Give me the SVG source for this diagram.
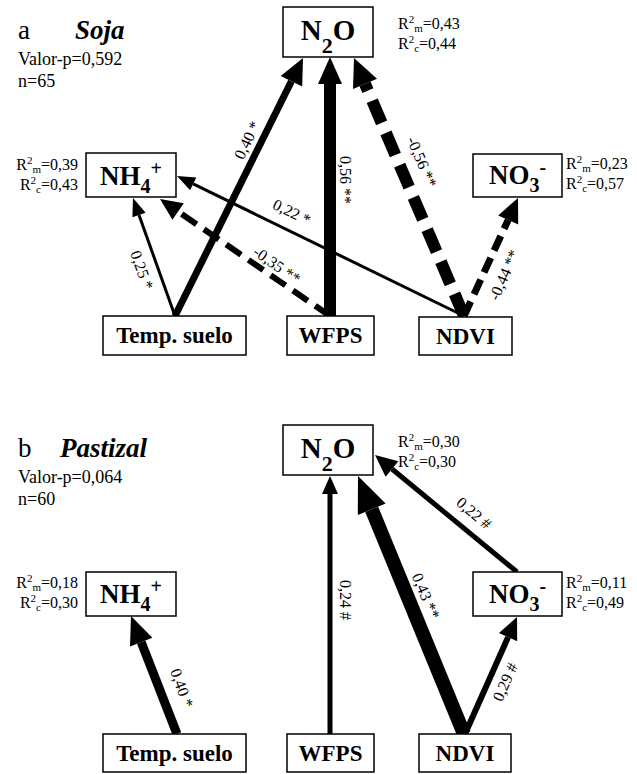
<svg xmlns="http://www.w3.org/2000/svg" width="637" height="774" viewBox="0 0 637 774" font-family="'Liberation Serif', 'DejaVu Serif', serif">
<style>
text{font-family:"Liberation Serif","DejaVu Serif",serif;fill:#000}
.box{fill:#fff;stroke:#000;stroke-width:1.5}
.node{font-weight:bold;font-size:23px;text-anchor:middle}
.big{font-weight:bold;font-size:29px;text-anchor:middle}
.mid{font-weight:bold;font-size:27px;text-anchor:middle}
.r2{font-size:16px}
.r2e{font-size:16px;text-anchor:end}
.s{font-size:11px}
.title{font-size:27px}
.ti{font-size:27px;font-weight:bold;font-style:italic}
.info{font-size:18px}
.lbl{font-size:16px;text-anchor:middle;dominant-baseline:central}
.e{stroke:#000;fill:none;stroke-linecap:butt}
.h{fill:#000;stroke:none}
</style>

<g id="header-a">
<text x="18" y="39" class="title">a</text>
<text x="75" y="39" class="ti">Soja</text>
<text x="18" y="65" class="info">Valor-p=0,592</text>
<text x="18" y="87" class="info">n=65</text>
</g>

<g id="connectors-a">
<line class="e" x1="175" y1="316" x2="139" y2="215" stroke-width="3"/>
<polygon class="h" points="133,198 145.6,212.7 132.4,217.3"/>
<line class="e" x1="175" y1="316" x2="291.4" y2="81.3" stroke-width="7"/>
<polygon class="h" points="303,58 302.2,86.6 280.7,76"/>
<line class="e" x1="330" y1="316" x2="330" y2="84" stroke-width="12"/>
<polygon class="h" points="330,57 342,84 318,84"/>
<line class="e" x1="464" y1="316" x2="365" y2="83.8" stroke-width="12" stroke-dasharray="24 11"/>
<polygon class="h" points="354,58 377,78.7 353,88.9"/>
<line class="e" x1="464" y1="316" x2="193.2" y2="183.9" stroke-width="3"/>
<polygon class="h" points="177,176 196.3,177.6 190.1,190.2"/>
<line class="e" x1="330" y1="316" x2="178.1" y2="211.5" stroke-width="6" stroke-dasharray="18 9"/>
<polygon class="h" points="160,199 183.8,203.3 172.4,219.7"/>
<line class="e" x1="464" y1="316" x2="508.2" y2="219.9" stroke-width="7" stroke-dasharray="16 8"/>
<polygon class="h" points="518,198 518.2,224.4 498.2,215.4"/>
<text class="lbl" transform="translate(142,270) rotate(70)">0,25 *</text>
<text class="lbl" transform="translate(247,140) rotate(-64)">0,40 *</text>
<text class="lbl" transform="translate(345,180) rotate(90)">0,56 **</text>
<text class="lbl" transform="translate(422,162) rotate(67)">-0,56 **</text>
<text class="lbl" transform="translate(292,212) rotate(26)">0,22 *</text>
<text class="lbl" transform="translate(277,265) rotate(35)">-0,35 **</text>
<text class="lbl" transform="translate(504,275) rotate(-66)">-0,44 **</text>
</g>

<g id="a-N2O">
<rect class="box" x="283" y="7" width="90" height="50"/>
<text x="328" y="40" class="big">N<tspan font-size="22" dy="13">2</tspan><tspan dy="-13">O</tspan></text>
<text x="398" y="29" class="r2">R<tspan class="s" dy="-6">2</tspan><tspan class="s" dy="9">m</tspan><tspan dy="-3">=0,43</tspan></text>
<text x="398" y="49" class="r2">R<tspan class="s" dy="-6">2</tspan><tspan class="s" dy="9">c</tspan><tspan dy="-3">=0,44</tspan></text>
</g>
<g id="a-NH4">
<rect class="box" x="86" y="153" width="90" height="44"/>
<text x="131" y="185" class="mid">NH<tspan font-size="20" dy="8">4</tspan><tspan font-size="20" dy="-18">+</tspan></text>
<text x="78" y="170" class="r2e">R<tspan class="s" dy="-6">2</tspan><tspan class="s" dy="9">m</tspan><tspan dy="-3">=0,39</tspan></text>
<text x="78" y="190" class="r2e">R<tspan class="s" dy="-6">2</tspan><tspan class="s" dy="9">c</tspan><tspan dy="-3">=0,43</tspan></text>
</g>
<g id="a-NO3">
<rect class="box" x="473" y="154" width="89" height="43"/>
<text x="517.5" y="184" class="mid">NO<tspan font-size="20" dy="8">3</tspan><tspan font-size="20" dy="-18">-</tspan></text>
<text x="566" y="169" class="r2">R<tspan class="s" dy="-6">2</tspan><tspan class="s" dy="9">m</tspan><tspan dy="-3">=0,23</tspan></text>
<text x="566" y="189" class="r2">R<tspan class="s" dy="-6">2</tspan><tspan class="s" dy="9">c</tspan><tspan dy="-3">=0,57</tspan></text>
</g>
<g id="a-Temp">
<rect class="box" x="103" y="316" width="143" height="39"/>
<text x="174.5" y="343" class="node">Temp. suelo</text>
</g>
<g id="a-WFPS">
<rect class="box" x="287" y="316" width="87" height="39"/>
<text x="330.5" y="343" class="node">WFPS</text>
</g>
<g id="a-NDVI">
<rect class="box" x="419" y="317" width="93" height="38"/>
<text x="465.5" y="344" class="node">NDVI</text>
</g>

<g id="header-b">
<text x="18" y="457" class="title">b</text>
<text x="60" y="457" class="ti">Pastizal</text>
<text x="18" y="483" class="info">Valor-p=0,064</text>
<text x="18" y="505" class="info">n=60</text>
</g>

<g id="connectors-b">
<line class="e" x1="177" y1="734" x2="141.2" y2="642.1" stroke-width="9"/>
<polygon class="h" points="131,616 152.4,637.7 130,646.5"/>
<line class="e" x1="330" y1="734" x2="330" y2="494" stroke-width="5"/>
<polygon class="h" points="330,476 338,494 322,494"/>
<line class="e" x1="464" y1="734" x2="371.7" y2="509.3" stroke-width="14"/>
<polygon class="h" points="358,476 385.6,503.6 357.8,515"/>
<line class="e" x1="465" y1="734" x2="508.1" y2="637.1" stroke-width="6"/>
<polygon class="h" points="517,617 517.2,641.2 499,633"/>
<line class="e" x1="517" y1="572" x2="392" y2="469" stroke-width="5"/>
<polygon class="h" points="375,455 398.4,461.3 385.6,476.7"/>
<text class="lbl" transform="translate(182,688) rotate(70)">0,40 *</text>
<text class="lbl" transform="translate(345,600) rotate(90)">0,24 #</text>
<text class="lbl" transform="translate(426,596) rotate(67)">0,43 **</text>
<text class="lbl" transform="translate(505,682) rotate(-66)">0,29 #</text>
<text class="lbl" transform="translate(474,513) rotate(40)">0,22 #</text>
</g>

<g id="b-N2O">
<rect class="box" x="283" y="425" width="90" height="50"/>
<text x="328" y="458" class="big">N<tspan font-size="22" dy="13">2</tspan><tspan dy="-13">O</tspan></text>
<text x="398" y="447" class="r2">R<tspan class="s" dy="-6">2</tspan><tspan class="s" dy="9">m</tspan><tspan dy="-3">=0,30</tspan></text>
<text x="398" y="467" class="r2">R<tspan class="s" dy="-6">2</tspan><tspan class="s" dy="9">c</tspan><tspan dy="-3">=0,30</tspan></text>
</g>
<g id="b-NH4">
<rect class="box" x="86" y="572" width="90" height="44"/>
<text x="131" y="603" class="mid">NH<tspan font-size="20" dy="8">4</tspan><tspan font-size="20" dy="-18">+</tspan></text>
<text x="78" y="588" class="r2e">R<tspan class="s" dy="-6">2</tspan><tspan class="s" dy="9">m</tspan><tspan dy="-3">=0,18</tspan></text>
<text x="78" y="608" class="r2e">R<tspan class="s" dy="-6">2</tspan><tspan class="s" dy="9">c</tspan><tspan dy="-3">=0,30</tspan></text>
</g>
<g id="b-NO3">
<rect class="box" x="473" y="572" width="89" height="44"/>
<text x="517.5" y="603" class="mid">NO<tspan font-size="20" dy="8">3</tspan><tspan font-size="20" dy="-18">-</tspan></text>
<text x="566" y="588" class="r2">R<tspan class="s" dy="-6">2</tspan><tspan class="s" dy="9">m</tspan><tspan dy="-3">=0,11</tspan></text>
<text x="566" y="608" class="r2">R<tspan class="s" dy="-6">2</tspan><tspan class="s" dy="9">c</tspan><tspan dy="-3">=0,49</tspan></text>
</g>
<g id="b-Temp">
<rect class="box" x="103" y="734" width="143" height="38"/>
<text x="174.5" y="761" class="node">Temp. suelo</text>
</g>
<g id="b-WFPS">
<rect class="box" x="287" y="734" width="87" height="38"/>
<text x="330.5" y="761" class="node">WFPS</text>
</g>
<g id="b-NDVI">
<rect class="box" x="419" y="734" width="92" height="38"/>
<text x="465" y="761" class="node">NDVI</text>
</g>
</svg>
